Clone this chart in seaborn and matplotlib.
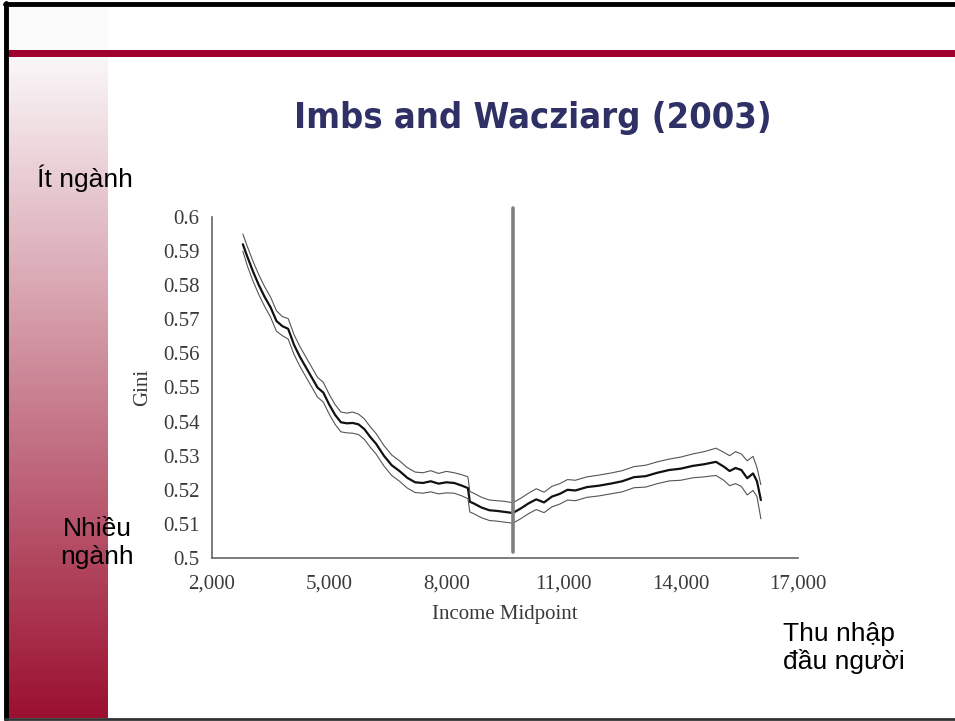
import numpy as np
import pandas as pd
import matplotlib
matplotlib.use("Agg")
import matplotlib.pyplot as plt
import seaborn as sns

# Datos (Imbs and Wacziarg 2003)
income = [2790, 2900, 3050, 3200, 3350, 3500, 3650, 3800, 3950, 4100,
          4250, 4400, 4550, 4700, 4850, 5000, 5150, 5300, 5450, 5600,
          5750, 5900, 6050, 6200, 6400, 6600, 6800, 7000, 7200, 7400,
          7600, 7800, 8000, 8200, 8400, 8550, 8600, 8700, 8900, 9100,
          9300, 9500, 9700, 9900, 10100, 10300, 10500, 10700, 10900, 11100,
          11300, 11600, 11900, 12200, 12500, 12800, 13100, 13400, 13700, 14000,
          14300, 14600, 14900, 15100, 15250, 15400, 15550, 15700, 15850, 15950,
          16050]

gini_mid = [0.5920, 0.5885, 0.5840, 0.5800, 0.5765, 0.5735, 0.5695, 0.5680, 0.5672, 0.5625,
            0.5590, 0.5560, 0.5530, 0.5500, 0.5485, 0.5450, 0.5420, 0.5398, 0.5395, 0.5396,
            0.5392, 0.5378, 0.5355, 0.5335, 0.5300, 0.5272, 0.5255, 0.5235, 0.5222, 0.5220,
            0.5225, 0.5218, 0.5222, 0.5220, 0.5212, 0.5205, 0.5165, 0.5160, 0.5148, 0.5140,
            0.5138, 0.5135, 0.5132, 0.5145, 0.5160, 0.5172, 0.5163, 0.5180, 0.5188, 0.5200,
            0.5198, 0.5208, 0.5212, 0.5218, 0.5225, 0.5237, 0.5240, 0.5250, 0.5258, 0.5262,
            0.5270, 0.5275, 0.5282, 0.5268, 0.5255, 0.5264, 0.5258, 0.5234, 0.5248, 0.5225,
            0.5170]

gini_upper = [0.5950, 0.5915, 0.5870, 0.5830, 0.5795, 0.5765, 0.5725, 0.5708, 0.5702, 0.5655,
              0.5620, 0.5590, 0.5560, 0.5530, 0.5515, 0.5480, 0.5450, 0.5428, 0.5425, 0.5428,
              0.5422, 0.5408, 0.5385, 0.5365, 0.5330, 0.5302, 0.5285, 0.5265, 0.5252, 0.5250,
              0.5256, 0.5248, 0.5254, 0.5250, 0.5244, 0.5238, 0.5195, 0.5190, 0.5178, 0.5170,
              0.5168, 0.5166, 0.5162, 0.5175, 0.5190, 0.5203, 0.5193, 0.5210, 0.5218, 0.5230,
              0.5228, 0.5238, 0.5243, 0.5249, 0.5256, 0.5268, 0.5272, 0.5282, 0.5290, 0.5296,
              0.5305, 0.5312, 0.5322, 0.5310, 0.5300, 0.5312, 0.5305, 0.5285, 0.5298, 0.5265,
              0.5215]

gini_lower = [0.5900, 0.5858, 0.5812, 0.5772, 0.5737, 0.5706, 0.5665, 0.5652, 0.5642, 0.5597,
              0.5562, 0.5532, 0.5502, 0.5472, 0.5457, 0.5422, 0.5392, 0.5370, 0.5367, 0.5366,
              0.5362, 0.5348, 0.5325, 0.5305, 0.5270, 0.5242, 0.5225, 0.5205, 0.5192, 0.5190,
              0.5194, 0.5188, 0.5191, 0.5190, 0.5182, 0.5174, 0.5135, 0.5130, 0.5118, 0.5110,
              0.5108, 0.5105, 0.5102, 0.5115, 0.5130, 0.5142, 0.5133, 0.5150, 0.5158, 0.5170,
              0.5168, 0.5178, 0.5182, 0.5188, 0.5194, 0.5206, 0.5208, 0.5218, 0.5226, 0.5228,
              0.5235, 0.5238, 0.5242, 0.5228, 0.5212, 0.5218, 0.5210, 0.5185, 0.5198, 0.5180,
              0.5115]

cutoff_income = 9700
x_ticks = [2000, 5000, 8000, 11000, 14000, 17000]
x_tick_labels = ["2,000", "5,000", "8,000", "11,000", "14,000", "17,000"]
y_ticks = [0.5, 0.51, 0.52, 0.53, 0.54, 0.55, 0.56, 0.57, 0.58, 0.59, 0.6]
y_tick_labels = ["0.5", "0.51", "0.52", "0.53", "0.54", "0.55", "0.56", "0.57", "0.58", "0.59", "0.6"]

df = pd.DataFrame({
    "income": income * 3,
    "gini": gini_upper + gini_mid + gini_lower,
    "serie": ["upper"] * len(income) + ["mid"] * len(income) + ["lower"] * len(income),
})

sns.set_style("white")
W, H = 955, 721
fig = plt.figure(figsize=(9.55, 7.21), dpi=100)
fig.patch.set_facecolor("white")

# Franja lateral con degradado
strip = fig.add_axes([7 / W, 3 / H, 101 / W, (718 - 57) / H])
top_c = np.array([250, 247, 248]) / 255
bot_c = np.array([155, 16, 48]) / 255
t = np.linspace(0, 1, 256)[:, None]
grad = (1 - t) * top_c + t * bot_c
strip.imshow(grad[:, None, :], aspect="auto", extent=[0, 1, 0, 1])
strip.axis("off")
fig.add_artist(plt.Rectangle((7 / W, 1 - 50 / H), 101 / W, 45 / H, transform=fig.transFigure,
                             color="#fbfbfb", lw=0))

# Barra roja superior y bordes
fig.add_artist(plt.Rectangle((7 / W, 1 - 57 / H), 1, 7 / H, transform=fig.transFigure,
                             color="#a00030", lw=0))
fig.add_artist(plt.Line2D([5 / W, 1], [1 - 3.5 / H, 1 - 3.5 / H], transform=fig.transFigure,
                          color="black", lw=3.5))
fig.add_artist(plt.Line2D([5.5 / W, 5.5 / W], [1 - 3 / H, 1 - 719 / H], transform=fig.transFigure,
                          color="black", lw=3.5))
fig.add_artist(plt.Line2D([5 / W, 1], [1 - 719 / H, 1 - 719 / H], transform=fig.transFigure,
                          color="#333333", lw=2))

# Título
fig.text(533 / W, 1 - 118 / H, "Imbs and Wacziarg (2003)", ha="center", va="center",
         fontsize=26, fontweight="bold", fontstretch="condensed", color="#2f3066",
         family="DejaVu Sans")

# Gráfico principal
ax = fig.add_axes([212 / W, 1 - 558 / H, (798 - 212) / W, (558 - 217) / H])
sns.lineplot(data=df, x="income", y="gini", hue="serie", size="serie",
             palette={"upper": "#555555", "mid": "#111111", "lower": "#555555"},
             sizes={"upper": 0.8, "mid": 1.6, "lower": 0.8},
             legend=False, ax=ax, sort=False)
ax.axvline(cutoff_income, ymin=0.018, ymax=1.026, color="#808080", lw=2.6, clip_on=False)

ax.set_xlim(2000, 17000)
ax.set_ylim(0.5, 0.6)
ax.set_xticks(x_ticks)
ax.set_xticklabels(x_tick_labels)
ax.set_yticks(y_ticks)
ax.set_yticklabels(y_tick_labels)
serif = "Liberation Serif"
for lab in ax.get_xticklabels() + ax.get_yticklabels():
    lab.set_family(serif)
    lab.set_fontsize(15)
    lab.set_color("#3a3a3a")
ax.tick_params(axis="both", length=4, width=1, color="#555555", pad=6)
ax.tick_params(axis="y", direction="out", pad=5)
ax.tick_params(axis="x", direction="inout", pad=10)
ax.set_xlabel("Income Midpoint", family=serif, fontsize=15, color="#3a3a3a", labelpad=8)
ax.set_ylabel("Gini", family=serif, fontsize=15, color="#3a3a3a", labelpad=8)
sns.despine(ax=ax)
for s in ["left", "bottom"]:
    ax.spines[s].set_color("#666666")
    ax.spines[s].set_linewidth(1.2)
ax.set_facecolor("none")

# Anotaciones en vietnamita
sans = "Liberation Sans"
fig.text(37 / W, 1 - 178 / H, "Ít ngành", ha="left", va="center", fontsize=19,
         family=sans, color="black")
fig.text(97 / W, 1 - 543 / H, "Nhiều\nngành", ha="center", va="center", fontsize=19,
         family=sans, linespacing=1.2, color="black")
fig.text(783 / W, 1 - 648 / H, "Thu nhập\nđầu người", ha="left", va="center", fontsize=19,
         family=sans, linespacing=1.2, color="black")

fig.savefig("out.png", dpi=100)
